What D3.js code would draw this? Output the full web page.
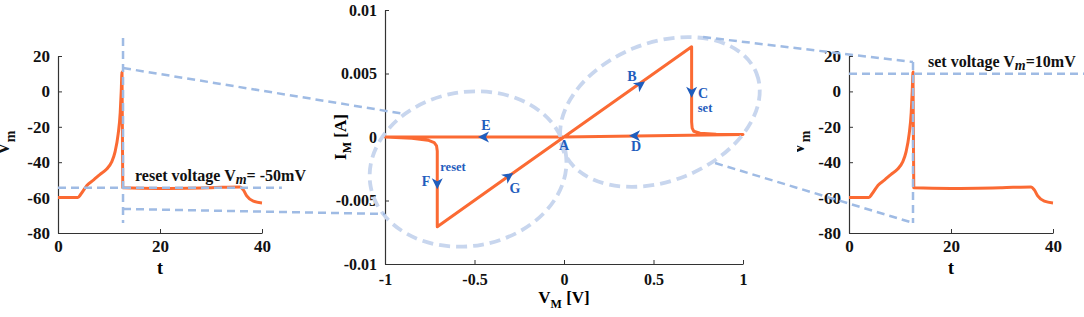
<!DOCTYPE html>
<html>
<head>
<meta charset="utf-8">
<script src="https://cdn.jsdelivr.net/npm/d3@7"></script>
<style>
  body { margin: 0; background: #fff; }
  text { font-family: "Times New Roman", "Liberation Serif", serif; font-weight: bold; }
</style>
</head>
<body>
<div id="chart"></div>
<script>
////////////////////////////////////////////////////////////////////////
// Data

// membrane potential trace (same trace in both side panels)
let traceT = [0, 3.9, 4.5, 5.7, 7, 8.2, 9.5, 10.5, 11.2, 11.8, 12.2, 12.4, 12.55, 12.7, 20, 30, 35.7, 36.3, 37, 38.3, 40];
let traceV = [-60, -60, -58, -53, -50, -47, -44, -40, -34, -24, -12, 0, 11, -54.5, -54.8, -54.4, -54, -55.5, -59, -62, -63];

// pinched hysteresis loop I-V
let loopV = [0, 0.713, 0.713, 0.716, 0.725, 0.76, 0.85, 1, 0, -1, -0.85, -0.76, -0.725, -0.712, -0.708, -0.708, 0];
let loopI = [0, 0.0071, 0.0012, 0.0007, 0.00045, 0.0003, 0.00022, 0.0002, 0, 0, -0.0001, -0.00025, -0.00045, -0.0007, -0.0011, -0.00706, 0];

let sideTicksX = [0, 20, 40];
let sideTicksY = [20, 0, -20, -40, -60, -80];
let midTicksX = [-1, -0.5, 0, 0.5, 1];
let midTicksY = [0.01, 0.005, 0, -0.005, -0.01];

// direction arrows on the loop: position and direction (data units)
let arrowNames = ["B", "C", "D", "E", "F", "G"];
let arrowV = [0.425, 0.713, 0.397, -0.447, -0.708, -0.311];
let arrowI = [0.0041, 0.00357, 0.0001, 0, -0.00365, -0.0031];
let arrowDV = [0.713, 0, -1, -1, 0, 0.708];
let arrowDI = [0.0071, -1, 0, 0, -1, 0.00706];

// letter labels on the loop
let labelText = ["A", "B", "C", "set", "D", "E", "F", "reset", "G"];
let labelV = [0, 0.38, 0.777, 0.788, 0.402, -0.436, -0.771, -0.62, -0.274];
let labelI = [-0.00102, 0.00441, 0.00307, 0.00197, -0.0011, 0.00055, -0.00386, -0.00268, -0.00441];
let labelSize = [14, 14, 14, 12.5, 14, 14, 14, 12.5, 14];

// zoom ellipses in the I-V panel (centre, half axes, tilt)
let ellipseV = [-0.536, 0.536];
let ellipseI = [-0.00252, 0.00197];
let ellipseRV = [0.553, 0.581];
let ellipseRI = [0.00606, 0.00543];
let ellipseTilt = [-10, -22];

// dashed guide lines: [panel, x, y] -> [panel, x, y]
let guides = [
  [["L", 12.75, 13.2], ["M", -0.888, 0.00181]],
  [["L", 12.75, -66.4], ["M", -1, -0.00606]],
  [["L", 12.75, 30.2], ["L", 12.75, -74.3]],
  [["L", 0, -54.4], ["L", 43.9, -54.4]],
  [["M", 0.777, 0.00787], ["R", 12.55, 16.6]],
  [["M", 0.844, -0.00205], ["R", 12.55, -74.3]],
  [["R", 12.55, 16.6], ["R", 12.55, -74.3]],
  [["R", 0, 10], ["R", 46.5, 10]]
];

////////////////////////////////////////////////////////////////////////
// Setup

let width = 1084, height = 317;
let orange = "#fb6a33";
let blue = "#1f5dbd";

let svg = d3.select("#chart").append("svg")
  .attr("width", width)
  .attr("height", height);

let leftX = d3.scaleLinear().domain([0, 40]).range([58, 262]);
let rightX = d3.scaleLinear().domain([0, 40]).range([849, 1053]);
let sideY = d3.scaleLinear().domain([-80, 20]).range([233, 56]);
let midX = d3.scaleLinear().domain([-1, 1]).range([385, 743]);
let midY = d3.scaleLinear().domain([-0.01, 0.01]).range([264, 10]);

let panels = {
  L: { x: leftX, y: sideY },
  M: { x: midX, y: midY },
  R: { x: rightX, y: sideY }
};

function pos(p) {
  return [panels[p[0]].x(p[1]), panels[p[0]].y(p[2])];
}

function drawAxes(xs, ys, xt, yt, size, pad) {
  let gx = svg.append("g")
    .attr("transform", "translate(0," + ys.range()[0] + ")")
    .call(d3.axisBottom(xs).tickValues(xt).tickSizeInner(-4).tickSizeOuter(0).tickPadding(pad).tickFormat(d => String(d)));
  let gy = svg.append("g")
    .attr("transform", "translate(" + xs.range()[0] + ",0)")
    .call(d3.axisLeft(ys).tickValues(yt).tickSizeInner(-4).tickSizeOuter(0).tickPadding(8).tickFormat(d => String(d)));
  [gx, gy].forEach(g => {
    g.select(".domain").attr("stroke", "#333").attr("stroke-width", 1.2);
    g.selectAll(".tick line").attr("stroke", "#333");
    g.selectAll(".tick text")
      .attr("fill", "#111")
      .style("font-family", '"Times New Roman", "Liberation Serif", serif')
      .style("font-weight", "bold")
      .style("font-size", size + "px");
  });
}

drawAxes(leftX, sideY, sideTicksX, sideTicksY, 17, 7);
drawAxes(rightX, sideY, sideTicksX, sideTicksY, 17, 7);
drawAxes(midX, midY, midTicksX, midTicksY, 16, 10);

// axis titles
function yTitle(x, y, main, sub, clipX) {
  let id = "clip" + Math.round(x);
  svg.append("clipPath").attr("id", id)
    .append("rect").attr("x", clipX).attr("y", 0).attr("width", 60).attr("height", height);
  let t = svg.append("g").attr("clip-path", "url(#" + id + ")")
    .append("text")
    .attr("transform", "translate(" + x + "," + y + ") rotate(-90)")
    .attr("text-anchor", "middle")
    .attr("fill", "#111")
    .style("font-size", "18px");
  t.append("tspan").text(main);
  t.append("tspan").attr("dy", 6).style("font-size", "14px").text(sub);
}
yTitle(9, 143, "V", "m", 0);
yTitle(804, 143, "V", "m", 797);

svg.append("text").attr("x", leftX(20)).attr("y", 274).attr("text-anchor", "middle")
  .style("font-size", "18px").text("t");
svg.append("text").attr("x", rightX(20)).attr("y", 274).attr("text-anchor", "middle")
  .style("font-size", "18px").text("t");

let xt = svg.append("text").attr("x", midX(0)).attr("y", 303).attr("text-anchor", "middle")
  .style("font-size", "17px");
xt.append("tspan").text("V");
xt.append("tspan").attr("dy", 5).style("font-size", "12px").text("M");
xt.append("tspan").attr("dy", -5).text(" [V]");

let yt = svg.append("text").attr("transform", "translate(346," + midY(0) + ") rotate(-90)")
  .attr("text-anchor", "middle").style("font-size", "17px");
yt.append("tspan").text("I");
yt.append("tspan").attr("dy", 5).style("font-size", "12px").text("M");
yt.append("tspan").attr("dy", -5).text(" [A]");

////////////////////////////////////////////////////////////////////////
// Curves

let trace = traceT.map((t, i) => ({ t: t, v: traceV[i] }));
[leftX, rightX].forEach(xs => {
  svg.append("path")
    .datum(trace)
    .attr("fill", "none")
    .attr("stroke", orange)
    .attr("stroke-width", 3)
    .attr("stroke-linejoin", "round")
    .attr("d", d3.line().x(d => xs(d.t)).y(d => sideY(d.v)).curve(d3.curveMonotoneX));
});

let loop = loopV.map((v, i) => ({ v: v, i: loopI[i] }));
svg.append("path")
  .datum(loop)
  .attr("fill", "none")
  .attr("stroke", orange)
  .attr("stroke-width", 3)
  .attr("stroke-linejoin", "round")
  .attr("d", d3.line().x(d => midX(d.v)).y(d => midY(d.i)));

////////////////////////////////////////////////////////////////////////
// Dashed zoom ellipses and guide lines

ellipseV.forEach((v, k) => {
  let cx = midX(v), cy = midY(ellipseI[k]);
  svg.append("ellipse")
    .attr("cx", cx).attr("cy", cy)
    .attr("rx", midX(ellipseRV[k]) - midX(0))
    .attr("ry", midY(0) - midY(ellipseRI[k]))
    .attr("transform", "rotate(" + ellipseTilt[k] + "," + cx + "," + cy + ")")
    .attr("fill", "none")
    .attr("stroke", "#c8d6ee")
    .attr("stroke-width", 3.8)
    .attr("stroke-dasharray", "11,6");
});

guides.forEach(g => {
  let a = pos(g[0]), b = pos(g[1]);
  svg.append("line")
    .attr("x1", a[0]).attr("y1", a[1])
    .attr("x2", b[0]).attr("y2", b[1])
    .attr("stroke", "#9fbbe4")
    .attr("stroke-width", 2.5)
    .attr("stroke-dasharray", "8,5");
});

////////////////////////////////////////////////////////////////////////
// Arrows and labels on the loop

arrowNames.forEach((n, k) => {
  let x = midX(arrowV[k]), y = midY(arrowI[k]);
  let dx = midX(arrowDV[k]) - midX(0);
  let dy = midY(arrowDI[k]) - midY(0);
  if (arrowDV[k] === 0) dx = 0;
  let ang = Math.atan2(dy, dx) * 180 / Math.PI;
  svg.append("path")
    .attr("d", "M6,0 L-5,-5.5 L-2,0 L-5,5.5 Z")
    .attr("transform", "translate(" + x + "," + y + ") rotate(" + ang + ")")
    .attr("fill", blue);
});

labelText.forEach((s, k) => {
  svg.append("text")
    .attr("x", midX(labelV[k]))
    .attr("y", midY(labelI[k]))
    .attr("text-anchor", "middle")
    .attr("fill", blue)
    .style("font-size", labelSize[k] + "px")
    .text(s);
});

// voltage annotations
function voltText(x, y, pre, post) {
  let t = svg.append("text").attr("x", x).attr("y", y).attr("fill", "#111").style("font-size", "16px");
  t.append("tspan").text(pre);
  t.append("tspan").attr("dy", 3).style("font-style", "italic").style("font-size", "14px").text("m");
  t.append("tspan").attr("dy", -3).text(post);
}
voltText(135, 181, "reset voltage V", "= -50mV");
voltText(928, 67, "set voltage V", "=10mV");
</script>
</body>
</html>
